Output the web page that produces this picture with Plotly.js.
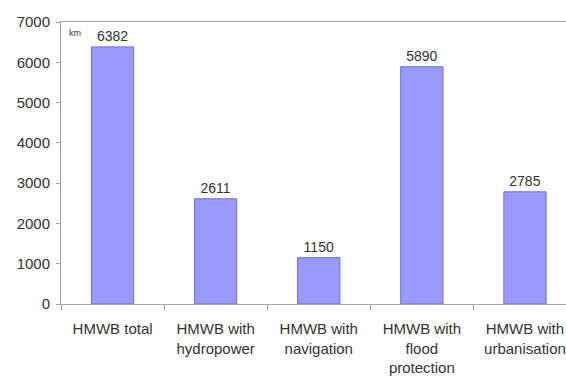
<!DOCTYPE html>
<html>
<head>
<meta charset="utf-8">
<script src="https://cdn.plot.ly/plotly-3.0.1.min.js"></script>
<style>html,body{margin:0;padding:0;background:#fff}#chart{width:566px;height:383px}</style>
</head>
<body>
<div id="chart"></div>
<script>
var categories = ["HMWB total", "HMWB with<br>hydropower", "HMWB with<br>navigation", "HMWB with<br>flood<br>protection", "HMWB with<br>urbanisation"];
var values = [6382, 2611, 1150, 5890, 2785];
var yTicks = [0, 1000, 2000, 3000, 4000, 5000, 6000, 7000];
var unitLabel = "km";

var font = "Liberation Sans, Arial, sans-serif";

var trace = {
  type: "bar",
  x: categories,
  y: values,
  text: values.map(String),
  textposition: "outside",
  cliponaxis: false,
  textfont: {family: font, size: 14, color: "#333"},
  marker: {color: "#9999ff", line: {color: "#6f6fd0", width: 1}},
  width: 0.41,
  hoverinfo: "skip"
};

var layout = {
  width: 566, height: 383,
  margin: {l: 61, r: 0, t: 22, b: 79},
  paper_bgcolor: "#fff", plot_bgcolor: "#fff",
  showlegend: false,
  xaxis: {
    type: "category",
    range: [-0.5, 4.398],
    showline: true, linecolor: "#a8a8a8", linewidth: 1, mirror: true,
    ticks: "outside", tickson: "boundaries", ticklen: 5, tickcolor: "#a0a0a0",
    tickfont: {family: font, size: 15, color: "#333"},
    ticklabelstandoff: 11,
    showgrid: false, zeroline: false
  },
  yaxis: {
    range: [0, 7000],
    tickvals: yTicks,
    ticktext: yTicks.map(String),
    showline: true, linecolor: "#a0a0a0", linewidth: 1,
    ticks: "outside", ticklen: 4, tickcolor: "#a0a0a0",
    tickfont: {family: font, size: 15, color: "#333"},
    ticklabelstandoff: 3,
    showgrid: false, zeroline: false
  },
  annotations: [{
    xref: "paper", yref: "paper", x: 0.012, y: 0.985,
    xanchor: "left", yanchor: "top", showarrow: false,
    text: unitLabel, font: {family: font, size: 9, color: "#333"}
  }]
};

Plotly.newPlot("chart", [trace], layout, {displayModeBar: false, staticPlot: true});
</script>
</body>
</html>
